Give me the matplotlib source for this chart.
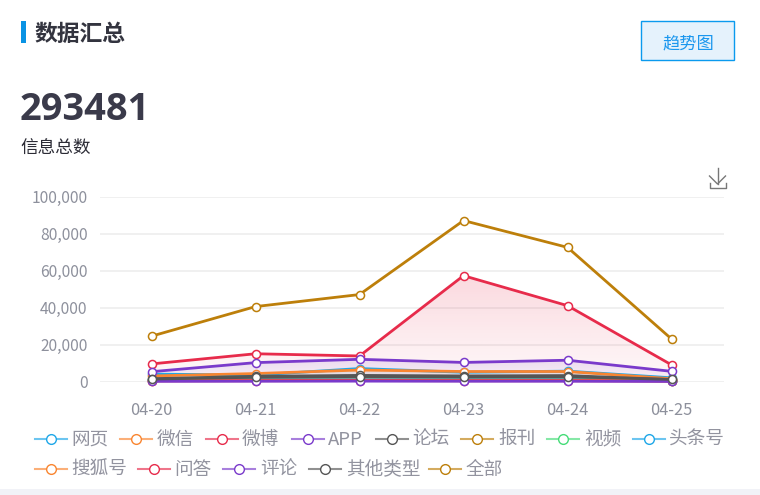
import matplotlib
matplotlib.use('Agg')
import matplotlib.pyplot as plt
from matplotlib.colors import to_rgb
from matplotlib.lines import Line2D
from matplotlib.patches import Rectangle
import numpy as np

plt.rcParams['font.family'] = ['Noto Sans CJK SC', 'DejaVu Sans']

W, H = 760, 495

days = ['04-20', '04-21', '04-22', '04-23', '04-24', '04-25']
y_ticks = [0, 20000, 40000, 60000, 80000, 100000]

wangye = [4000, 3500, 7000, 5000, 5600, 2000]
weixin = [3000, 4300, 6200, 5400, 5400, 1500]
weibo = [9500, 15000, 13800, 57200, 41000, 9000]
app = [5300, 10200, 12000, 10300, 11500, 5500]
luntan = [1500, 2800, 3300, 3000, 3200, 1000]
baokan = [1000, 1400, 1600, 1500, 1500, 600]
shipin = [700, 900, 1000, 900, 900, 400]
toutiao = [800, 1000, 1100, 1000, 1000, 500]
souhu = [500, 700, 800, 700, 700, 300]
wenda = [300, 400, 500, 400, 400, 200]
pinglun = [100, 150, 200, 150, 150, 50]
qita = [1300, 2300, 2700, 2500, 2600, 1100]
quanbu = [24500, 40500, 47000, 87000, 72500, 23000]

BLUE = '#1ea7e8'
ORANGE = '#f98530'
RED = '#e72b4b'
PURPLE = '#7a3acb'
GREY = '#555555'
GOLD = '#bd7f0a'
GREEN = '#45dc78'

names = ['网页', '微信', '微博', 'APP', '论坛', '报刊', '视频', '头条号',
         '搜狐号', '问答', '评论', '其他类型', '全部']
series = [wangye, weixin, weibo, app, luntan, baokan, shipin, toutiao,
          souhu, wenda, pinglun, qita, quanbu]
colors = [BLUE, ORANGE, RED, PURPLE, GREY, GOLD, GREEN, BLUE,
          ORANGE, RED, PURPLE, GREY, GOLD]
# key left edge, text left edge, row centre - all in pixels
legend_pos = [(35, 71, 439), (120, 157, 439), (206, 242, 439), (292, 328, 439),
              (376, 412, 439), (461, 498, 439), (547, 584, 439), (633, 669, 439),
              (35, 71, 469), (138, 174, 469), (223, 260, 469), (309, 346, 469),
              (429, 466, 469)]


def fx(px):
    return px / W


def fy(px):
    return 1 - px / H


def gradient_fill(ax, x, y, color, top_alpha):
    poly = ax.fill_between(x, y, 0, color='none', linewidth=0)
    img = np.zeros((100, 2, 4))
    img[:, :, :3] = to_rgb(color)
    img[:, :, 3] = np.linspace(top_alpha, 0.03, 100)[:, None]
    im = ax.imshow(img, extent=(x[0], x[-1], 0, max(y)), aspect='auto',
                   origin='upper', zorder=1.5)
    im.set_clip_path(poly.get_paths()[0], transform=ax.transData)


fig = plt.figure(figsize=(W / 100, H / 100), dpi=100, facecolor='white')
ax = fig.add_axes([fx(99.5), fy(381.5), 624 / W, 185 / H])

x = np.arange(len(days))
gradient_fill(ax, x, weibo, RED, 0.18)
gradient_fill(ax, x, app, PURPLE, 0.14)
gradient_fill(ax, x, wangye, BLUE, 0.12)
gradient_fill(ax, x, weixin, ORANGE, 0.12)

for i, (values, color) in enumerate(zip(series, colors)):
    ax.plot(x, values, color=color, lw=2.0, marker='o', ms=5.8, mfc='white',
            mec=color, mew=1.1, clip_on=False, zorder=3 + i * 0.01)

ax.set_xlim(-0.5, 5.5)
ax.set_ylim(0, 100000)
ax.set_xticks(x)
ax.set_xticklabels(days)
ax.set_yticks(y_ticks)
ax.set_yticklabels([f'{v:,}' for v in y_ticks])
ax.tick_params(axis='both', length=0, labelsize=11.2, labelcolor='#8d909c')
ax.tick_params(axis='x', labelsize=11.8, pad=15)
ax.tick_params(axis='y', pad=8.5)
ax.grid(axis='y', color='#eeeeee', lw=1.2)
ax.set_axisbelow(True)
for s in ax.spines.values():
    s.set_visible(False)
ax.patch.set_alpha(0)

# bottom band of the page
fig.add_artist(Rectangle((0, 0), 1, 6 / H, transform=fig.transFigure,
                         facecolor='#f1f2f7', edgecolor='none'))

# header
fig.add_artist(Rectangle((fx(21), fy(43)), 5 / W, 22 / H, transform=fig.transFigure,
                         facecolor='#0a93e4', edgecolor='none'))
fig.text(fx(34.5), fy(34), '数据汇总', fontsize=16.4, fontweight='bold',
         color='#33343f', va='center', ha='left')
fig.text(fx(20), fy(110), '293481', fontsize=27.4, fontweight='bold',
         color='#3a3a4a', va='center', ha='left', family=['Open Sans', 'DejaVu Sans'])
fig.text(fx(20.5), fy(149), '信息总数', fontsize=12.7, color='#2c2c36', va='center', ha='left')

# button
fig.add_artist(Rectangle((fx(641), fy(60)), 93 / W, 39 / H, transform=fig.transFigure,
                         facecolor='#e5f2fc', edgecolor='#0a9aee', lw=1))
fig.text(fx(688), fy(43), '趋势图', fontsize=12.4, color='#1b97ee', va='center', ha='center')

# download icon
for xs, ys in [([717.5, 717.5], [168, 184]), ([709.5, 717.5, 725.5], [176, 184, 176]),
               ([709.5, 709.5, 726, 726], [183, 187.5, 187.5, 183])]:
    fig.add_artist(Line2D([fx(v) for v in xs], [fy(v) for v in ys],
                          transform=fig.transFigure, color='#777777', lw=1.0))

# legend
for name, color, (kx, tx, ky) in zip(names, colors, legend_pos):
    fig.add_artist(Line2D([fx(kx), fx(kx + 32)], [fy(ky), fy(ky)], transform=fig.transFigure,
                          color=color, alpha=0.65, lw=1.5))
    fig.add_artist(Line2D([fx(kx + 16)], [fy(ky)], transform=fig.transFigure, marker='o',
                          ms=7.0, mfc='white', mec=color, mew=1.0, ls='none'))
    fig.text(fx(tx), fy(ky + 1), name, fontsize=13.4, color='#92939f', va='center', ha='left')

fig.savefig('out.png', dpi=100)
